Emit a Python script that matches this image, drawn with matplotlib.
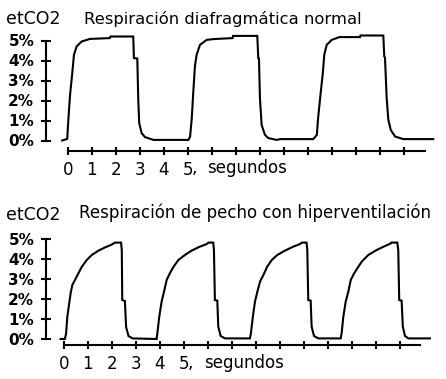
import matplotlib
matplotlib.use("Agg")
import matplotlib.pyplot as plt

W, H = 446, 379

# trazado superior: respiración diafragmática normal (segundos, % etCO2)
t_normal = [-0.23, -0.02, 0.03, 0.10, 0.19, 0.26, 0.37, 0.58, 0.93, 1.76, 1.78, 2.73, 2.76, 2.90,
            2.94, 2.98, 3.08, 3.22, 3.57, 5.03,
            5.10, 5.17, 5.23, 5.30, 5.37, 5.51, 5.79, 6.07, 6.87, 6.89, 7.90, 7.94, 7.97,
            8.01, 8.08, 8.22, 8.36, 8.71, 8.85, 10.23,
            10.38, 10.44, 10.54, 10.63, 10.69, 10.79, 11.00, 11.32, 12.18, 12.20, 13.15, 13.19, 13.22,
            13.29, 13.36, 13.46, 13.64, 13.98, 15.23]
co2_normal = [0.0, 0.08, 1.1, 2.3, 3.37, 4.28, 4.7, 4.95, 5.08, 5.12, 5.2, 5.2, 4.12, 4.1,
              2.03, 0.87, 0.37, 0.17, 0.03, 0.03,
              0.2, 1.12, 2.37, 3.7, 4.28, 4.78, 5.03, 5.07, 5.12, 5.23, 5.23, 4.12, 4.1,
              2.12, 0.78, 0.28, 0.12, 0.03, 0.07, 0.07,
              0.28, 1.2, 2.37, 3.37, 4.28, 4.78, 5.03, 5.17, 5.17, 5.25, 5.25, 4.2, 4.15,
              2.12, 1.03, 0.53, 0.2, 0.07, 0.07]

# trazado inferior: respiración de pecho con hiperventilación
t_hiper = [-0.13, 0.05, 0.10, 0.15, 0.22, 0.29, 0.36, 0.47, 0.61, 0.75, 0.96, 1.17, 1.44, 1.72, 2.00,
           2.14, 2.39, 2.42, 2.44, 2.55, 2.60, 2.70, 2.87, 3.87,
           3.90, 3.98, 4.08, 4.18, 4.29, 4.42, 4.58, 4.78, 5.05, 5.33, 5.68, 5.96, 6.03, 6.23,
           6.26, 6.30, 6.40, 6.44, 6.54, 6.72, 7.76,
           7.80, 7.88, 7.97, 8.07, 8.18, 8.32, 8.48, 8.67, 8.90, 9.22, 9.57, 9.85, 9.92, 10.12,
           10.15, 10.19, 10.29, 10.33, 10.43, 10.61, 11.54,
           11.58, 11.65, 11.75, 11.86, 11.96, 12.10, 12.28, 12.42, 12.69, 13.04, 13.39, 13.63, 13.66,
           13.90, 13.94, 13.98, 14.08, 14.13, 14.22, 14.36, 15.26]
co2_hiper = [0.0, 0.0, 0.28, 1.1, 1.7, 2.3, 2.7, 2.95, 3.28, 3.6, 3.95, 4.2, 4.41, 4.58, 4.72,
             4.82, 4.82, 4.45, 1.95, 1.9, 0.6, 0.15, 0.03, 0.0,
             0.25, 1.1, 1.87, 2.37, 2.95, 3.28, 3.62, 3.95, 4.2, 4.42, 4.62, 4.75, 4.82, 4.82,
             4.45, 1.95, 1.92, 0.62, 0.15, 0.03, 0.03,
             0.28, 1.1, 1.87, 2.37, 2.87, 3.2, 3.62, 3.95, 4.2, 4.42, 4.62, 4.75, 4.82, 4.82,
             4.45, 1.95, 1.92, 0.62, 0.15, 0.03, 0.03,
             0.28, 1.1, 1.87, 2.37, 2.95, 3.28, 3.62, 3.87, 4.2, 4.45, 4.65, 4.78, 4.82,
             4.82, 4.45, 1.95, 1.92, 0.62, 0.15, 0.03, 0.03]

y_ticks = [0, 1, 2, 3, 4, 5]
y_labels = ["0%", "1%", "2%", "3%", "4%", "5%"]
x_ticks = list(range(15))
x_labels = ["0", "1", "2", "3", "4", "5"] + [""] * 9

titles = ["Respiración diafragmática normal", "Respiración de pecho con hiperventilación"]

fig = plt.figure(figsize=(W / 100, H / 100), dpi=100)
lw = 1.5


def panel(top, bottom, x0, y0, spine_x, axis_y, x_end, t, co2):
    # ejes en píxeles: x0 = píxel del segundo 0, y0 = píxel del 0 %
    ax = fig.add_axes([0, 1 - bottom / H, 1, (bottom - top) / H])
    ax.set_xlim(-x0 / 24, (W - x0) / 24)
    ax.set_ylim((y0 - bottom) / 20, (y0 - top) / 20)
    ax.patch.set_alpha(0)
    ax.plot(t, co2, color="black", lw=lw, solid_joinstyle="miter")
    for s in ["top", "right"]:
        ax.spines[s].set_visible(False)
    ax.spines["left"].set_position(("data", (spine_x - x0) / 24))
    ax.spines["left"].set_bounds(0, 5)
    ax.spines["bottom"].set_position(("data", (y0 - axis_y) / 20))
    ax.spines["bottom"].set_bounds(0, (x_end - x0) / 24)
    for s in ["left", "bottom"]:
        ax.spines[s].set_linewidth(lw)
    ax.set_yticks(y_ticks, y_labels, fontsize=11, fontweight="bold")
    ax.set_xticks(x_ticks, x_labels, fontsize=12)
    ax.tick_params(axis="y", direction="inout", length=7, width=lw, pad=5)
    ax.tick_params(axis="x", direction="inout", length=5.5, width=lw, pad=4.5)
    return ax


panel(30, 190, 67.7, 140.5, 46, 151, 425, t_normal, co2_normal)
panel(225, 379, 63.7, 339, 46, 344.7, 420, t_hiper, co2_hiper)


def ftext(x, y, s, size=12, **kw):
    fig.text(x / W, 1 - y / H, s, va="center", ha="left", fontsize=size, **kw)


ftext(6, 19, "etCO2", size=12.5)
ftext(84, 19, titles[0], size=11.8)
ftext(6, 215, "etCO2", size=12.5)
ftext(79, 213, titles[1], size=12)
ftext(192, 168, ",")
ftext(207, 168, "segundos")
ftext(188, 363, ",")
ftext(204, 363, "segundos")

fig.savefig("out.png", dpi=100)
